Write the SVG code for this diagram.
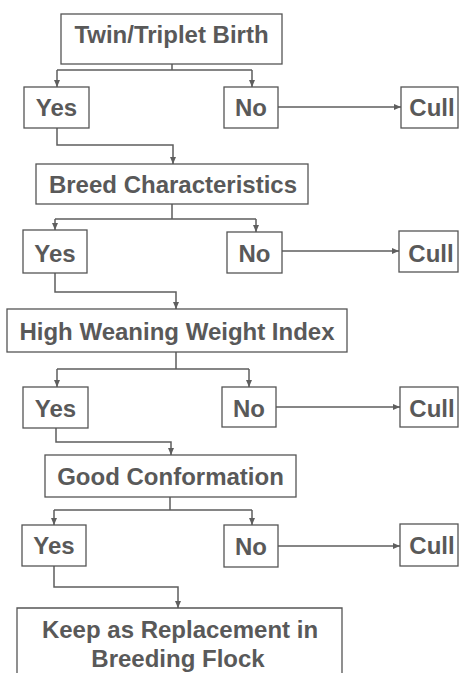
<svg xmlns="http://www.w3.org/2000/svg" width="459" height="673" viewBox="0 0 459 673">
<style>
.box{fill:#fff;stroke:#555;stroke-width:1.3}
.t{font-family:"Liberation Sans",Arial,sans-serif;font-weight:bold;font-size:24px;fill:#595959;text-anchor:middle}
.c{fill:none;stroke:#5e5e5e;stroke-width:1.5}
.a{fill:none;stroke:#5e5e5e;stroke-width:1.5;marker-end:url(#ah)}
</style>
<defs>
<marker id="ah" markerWidth="8" markerHeight="8" refX="7" refY="4" orient="auto" markerUnits="userSpaceOnUse">
<path d="M0,1 L7,4 L0,7 Z" fill="#5e5e5e"/>
</marker>
</defs>
<rect width="459" height="673" fill="#fff"/>
<g id="connectors">
<path class="c" d="M172,64 V70 M57,70 H252"/>
<path class="a" d="M57,70 V87"/>
<path class="a" d="M252,70 V87"/>
<path class="a" d="M278,107 H401"/>
<path class="a" d="M57,128 V145 H173 V164"/>
<path class="c" d="M172,204 V219 M55,219 H256"/>
<path class="a" d="M55,219 V230"/>
<path class="a" d="M256,219 V232"/>
<path class="a" d="M282,251 H399"/>
<path class="a" d="M55,273 V292 H176 V309"/>
<path class="c" d="M176,352 V369 M57,369 H249"/>
<path class="a" d="M57,369 V387"/>
<path class="a" d="M249,369 V387"/>
<path class="a" d="M276,407 H400"/>
<path class="a" d="M56,428 V442 H171 V455"/>
<path class="c" d="M170,497 V510 M54,510 H252"/>
<path class="a" d="M54,510 V525"/>
<path class="a" d="M252,510 V525"/>
<path class="a" d="M278,546 H400"/>
<path class="a" d="M54,566 V587 H178 V608"/>
</g>
<g id="twin"><rect class="box" x="61" y="14" width="221" height="50"/><text class="t" x="171.5" y="43">Twin/Triplet Birth</text></g>
<g id="yes1"><rect class="box" x="24" y="87" width="65" height="41"/><text class="t" x="56.5" y="116">Yes</text></g>
<g id="no1"><rect class="box" x="224" y="87" width="54" height="41"/><text class="t" x="251" y="116">No</text></g>
<g id="cull1"><rect class="box" x="401" y="87" width="57" height="41"/><text class="t" x="432" y="116">Cull</text></g>
<g id="breed"><rect class="box" x="36" y="164" width="272" height="40"/><text class="t" x="173" y="193">Breed Characteristics</text></g>
<g id="yes2"><rect class="box" x="23" y="230" width="64" height="43"/><text class="t" x="55" y="262">Yes</text></g>
<g id="no2"><rect class="box" x="227" y="232" width="55" height="41"/><text class="t" x="254.5" y="262">No</text></g>
<g id="cull2"><rect class="box" x="399" y="231" width="59" height="41"/><text class="t" x="431" y="262">Cull</text></g>
<g id="weaning"><rect class="box" x="7" y="309" width="340" height="43"/><text class="t" x="177" y="340">High Weaning Weight Index</text></g>
<g id="yes3"><rect class="box" x="23" y="387" width="65" height="41"/><text class="t" x="55.5" y="417">Yes</text></g>
<g id="no3"><rect class="box" x="222" y="387" width="54" height="40"/><text class="t" x="249" y="417">No</text></g>
<g id="cull3"><rect class="box" x="400" y="387" width="58" height="40"/><text class="t" x="432" y="417">Cull</text></g>
<g id="conformation"><rect class="box" x="45" y="455" width="251" height="42"/><text class="t" x="170.5" y="485">Good Conformation</text></g>
<g id="yes4"><rect class="box" x="22" y="525" width="64" height="41"/><text class="t" x="54" y="554">Yes</text></g>
<g id="no4"><rect class="box" x="224" y="525" width="54" height="42"/><text class="t" x="251" y="555">No</text></g>
<g id="cull4"><rect class="box" x="400" y="524" width="58" height="42"/><text class="t" x="432" y="554">Cull</text></g>
<g id="keep"><path class="box" d="M17,680 V608 H342 V680"/><text class="t" x="180" y="638">Keep as Replacement in</text><text class="t" x="178" y="667">Breeding Flock</text></g>
</svg>
